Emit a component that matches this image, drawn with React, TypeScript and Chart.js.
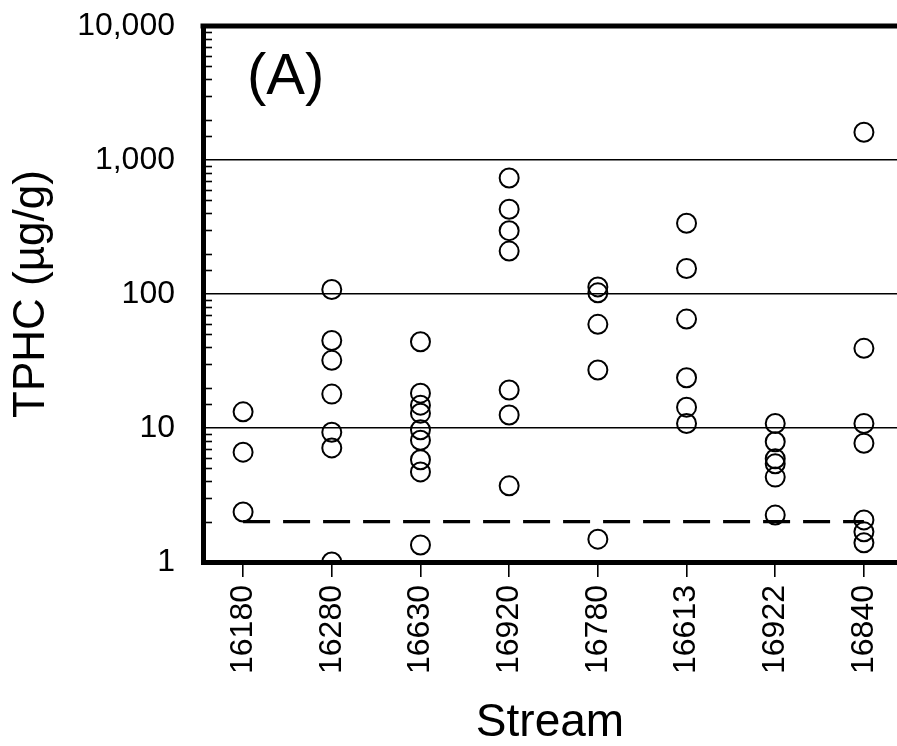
import React, { useEffect, useRef } from 'react';
import { Chart, registerables } from 'chart.js';

Chart.register(...registerables);

const streams = ['16180', '16280', '16630', '16920', '16780', '16613', '16922', '16840'];
const v16180 = [13.2, 6.6, 2.36];
const v16280 = [108, 45, 32, 17.9, 9.3, 7.1, 1.0];
const v16630 = [44, 18.2, 14.8, 12.9, 9.7, 8.1, 5.8, 4.7, 1.34];
const v16920 = [734, 429, 297, 209, 19.2, 12.5, 3.7];
const v16780 = [113, 102, 59.4, 27.1, 1.48];
const v16613 = [337, 155, 65, 23.7, 14.3, 10.8];
const v16922 = [10.8, 7.9, 5.9, 5.4, 4.3, 2.24];
const v16840 = [1610, 39.3, 10.8, 7.7, 2.06, 1.68, 1.39];
const seriesByStream = [v16180, v16280, v16630, v16920, v16780, v16613, v16922, v16840];
const yMajorTicks = [1, 10, 100, 1000, 10000];
const yGridValues = [10, 100, 1000];
const detectionLimit = 2;

const FONT = '"Liberation Sans", Arial, Helvetica, sans-serif';

const isPow10 = (v: number) => {
  const lg = Math.log10(v);
  return Math.abs(lg - Math.round(lg)) < 1e-9;
};

export default function App() {
  const ref = useRef<HTMLCanvasElement>(null);

  useEffect(() => {
    document.body.style.margin = '0';
    const canvas = ref.current;
    if (!canvas) return;

    const points = streams.flatMap((_, i) => seriesByStream[i].map((v) => ({ x: i, y: v })));

    const decor = {
      id: 'decor',
      afterDraw(chart: any) {
        const { ctx, chartArea: a, scales } = chart;
        const y = scales.y;
        ctx.save();
        ctx.strokeStyle = '#000';
        ctx.lineWidth = 1.6;
        y.ticks.forEach((t: any) => {
          if (isPow10(t.value)) return;
          const py = Math.round(y.getPixelForValue(t.value)) + 0.5;
          ctx.beginPath();
          ctx.moveTo(a.left, py);
          ctx.lineTo(a.left + 9, py);
          ctx.stroke();
        });
        ctx.lineWidth = 5;
        ctx.beginPath();
        ctx.moveTo(a.left - 2.5, a.top);
        ctx.lineTo(a.right, a.top);
        ctx.stroke();
        ctx.fillStyle = '#000';
        ctx.font = `58px ${FONT}`;
        ctx.textBaseline = 'alphabetic';
        ctx.textAlign = 'left';
        ctx.fillText('(A)', a.left + 44, a.top + 68);
        ctx.restore();
      },
    };

    const chart = new Chart(canvas, {
      type: 'scatter',
      data: {
        datasets: [
          {
            type: 'line',
            data: [
              { x: 0, y: detectionLimit },
              { x: streams.length - 1, y: detectionLimit },
            ],
            borderColor: '#000',
            borderWidth: 3.3,
            borderDash: [27, 13],
            pointRadius: 0,
            fill: false,
          } as any,
          {
            data: points,
            pointStyle: 'circle',
            pointRadius: 9.5,
            pointHoverRadius: 9.5,
            borderColor: '#000',
            borderWidth: 2,
            backgroundColor: 'rgba(0,0,0,0)',
            clip: 0,
          } as any,
        ],
      },
      options: {
        animation: false,
        responsive: false,
        devicePixelRatio: 1,
        layout: { autoPadding: false, padding: { top: 26, right: 0, left: 0, bottom: 0 } },
        plugins: { legend: { display: false }, tooltip: { enabled: false } },
        scales: {
          x: {
            type: 'linear',
            min: -0.452,
            max: 7.373,
            z: 1,
            afterBuildTicks: (s: any) => {
              s.ticks = streams.map((_, i) => ({ value: i }));
            },
            afterFit: (s: any) => {
              s.height = 184;
              s.paddingLeft = 0;
              s.paddingRight = 0;
            },
            grid: {
              drawOnChartArea: false,
              drawTicks: true,
              tickLength: 15,
              color: '#000',
              lineWidth: 1.6,
            },
            border: { display: true, color: '#000', width: 5 },
            ticks: {
              autoSkip: false,
              minRotation: 90,
              maxRotation: 90,
              padding: 8,
              color: '#000',
              font: { family: FONT, size: 32 },
              callback: (v: any) => streams[v as number] ?? '',
            },
            title: {
              display: true,
              text: 'Stream',
              color: '#000',
              font: { family: FONT, size: 46, lineHeight: 1 },
              padding: 0,
            },
          },
          y: {
            type: 'logarithmic',
            min: 1,
            max: 10000,
            afterFit: (s: any) => {
              s.width = 203;
              s.paddingTop = 0;
              s.paddingBottom = 0;
            },
            grid: {
              drawTicks: false,
              color: (c: any) =>
                c.tick && yGridValues.some((g) => Math.abs(g - c.tick.value) < 1e-6) ? '#000' : 'rgba(0,0,0,0)',
              lineWidth: 1.6,
            },
            border: { display: true, color: '#000', width: 5 },
            ticks: {
              autoSkip: false,
              padding: 28,
              color: '#000',
              font: { family: FONT, size: 32 },
              callback: (v: any) =>
                yMajorTicks.some((m) => Math.abs(m - v) < 1e-6) ? Number(v).toLocaleString('en-US') : '',
            },
            title: {
              display: true,
              text: 'TPHC (µg/g)',
              color: '#000',
              font: { family: FONT, size: 44, lineHeight: 1 },
              padding: { top: 10, bottom: 0 },
            },
          },
        },
      } as any,
      plugins: [decor],
    });

    return () => chart.destroy();
  }, []);

  return (
    <div style={{ width: 897, height: 746, position: 'relative' }}>
      <canvas ref={ref} width={897} height={746} style={{ display: 'block' }} />
    </div>
  );
}
